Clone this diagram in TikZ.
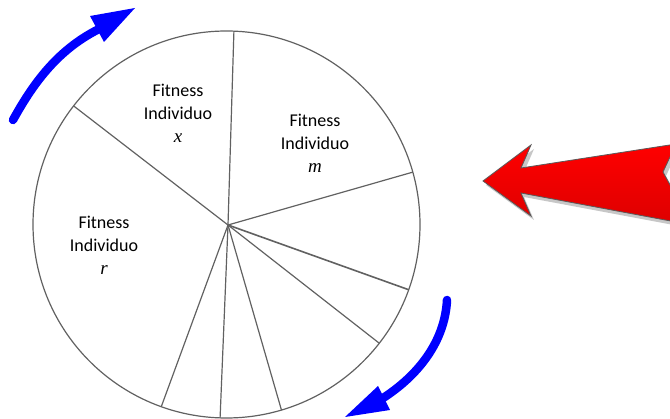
\documentclass[tikz,border=0pt]{standalone}
\usepackage{fontspec}
\setsansfont{Carlito}
\newfontfamily\varfont{Liberation Serif}
\usetikzlibrary{calc}
\begin{document}
\begin{tikzpicture}[x=1pt,y=-1pt,
  rim/.style={draw=black!62, line width=1.2pt},
  spoke/.style={draw=black!62, line width=1.2pt},
  tag/.style={align=center, inner sep=0pt, font=\sffamily\fontsize{18}{23}\selectfont},
  turn/.style={draw=blue, line width=8.5pt, line cap=round},
  turnhead/.style={fill=blue},
  pointer/.style={draw=black!65, line width=0.8pt,
    top color={rgb,255:red,255;green,0;blue,0},
    bottom color={rgb,255:red,222;green,0;blue,0}},
  pointershadow/.style={fill=black!22},
]
\useasboundingbox (0,0) rectangle (670,419);
\begin{scope}
\clip (0,0) rectangle (670,419);

% the wheel
\coordinate (C) at (226.5,224.5);
\coordinate (H) at (228,225);
\draw[rim] (C) circle[radius=193.5];
\foreach \a in {87.8,142.2,15.7,-37.85,-73.5,-91.9,-109.7}
  \draw[spoke] (H) -- ($(C)+(\a:193.5pt)$);
\draw[spoke, line width=1.6pt] (H) -- ($(C)+(-19.7:193.5pt)$);

% sector labels
\node[tag] (fx) at (178,113) {Fitness\\Individuo\\{\varfont\itshape\fontsize{19}{23}\selectfont x}};
\node[tag] (fm) at (315,143) {Fitness\\Individuo\\{\varfont\itshape\fontsize{19}{23}\selectfont m}};
\node[tag] (fr) at (104,245) {Fitness\\Individuo\\{\varfont\itshape\fontsize{19}{23}\selectfont r}};

% fixed pointer with its drop shadow
\begin{scope}[shift={(3,4)}]
  \fill[pointershadow] (483,181) -- (531,145) -- (521,168) -- (676,144) -- (663,172)
  -- (676,196) -- (676,222) -- (521,193) -- (531,216) -- cycle;
\end{scope}
\path[pointer] (483,181) -- (531,145) -- (521,168) -- (676,144) -- (663,172)
  -- (676,196) -- (676,222) -- (521,193) -- (531,216) -- cycle;

% rotation arrows
\coordinate (ua) at (13,120);
\coordinate (ub) at (101,28);
\draw[turn] (ua) .. controls (35,80) and (60,48) .. (ub);
\fill[turnhead] (135,8) -- (90,16) -- (104,42) -- cycle;

\coordinate (la) at (447,300);
\coordinate (lb) at (380,400);
\draw[turn] (la) .. controls (445,340) and (420,375) .. (lb);
\fill[turnhead] (345,417) -- (378,386) -- (390,410) -- cycle;
\end{scope}
\end{tikzpicture}
\end{document}
